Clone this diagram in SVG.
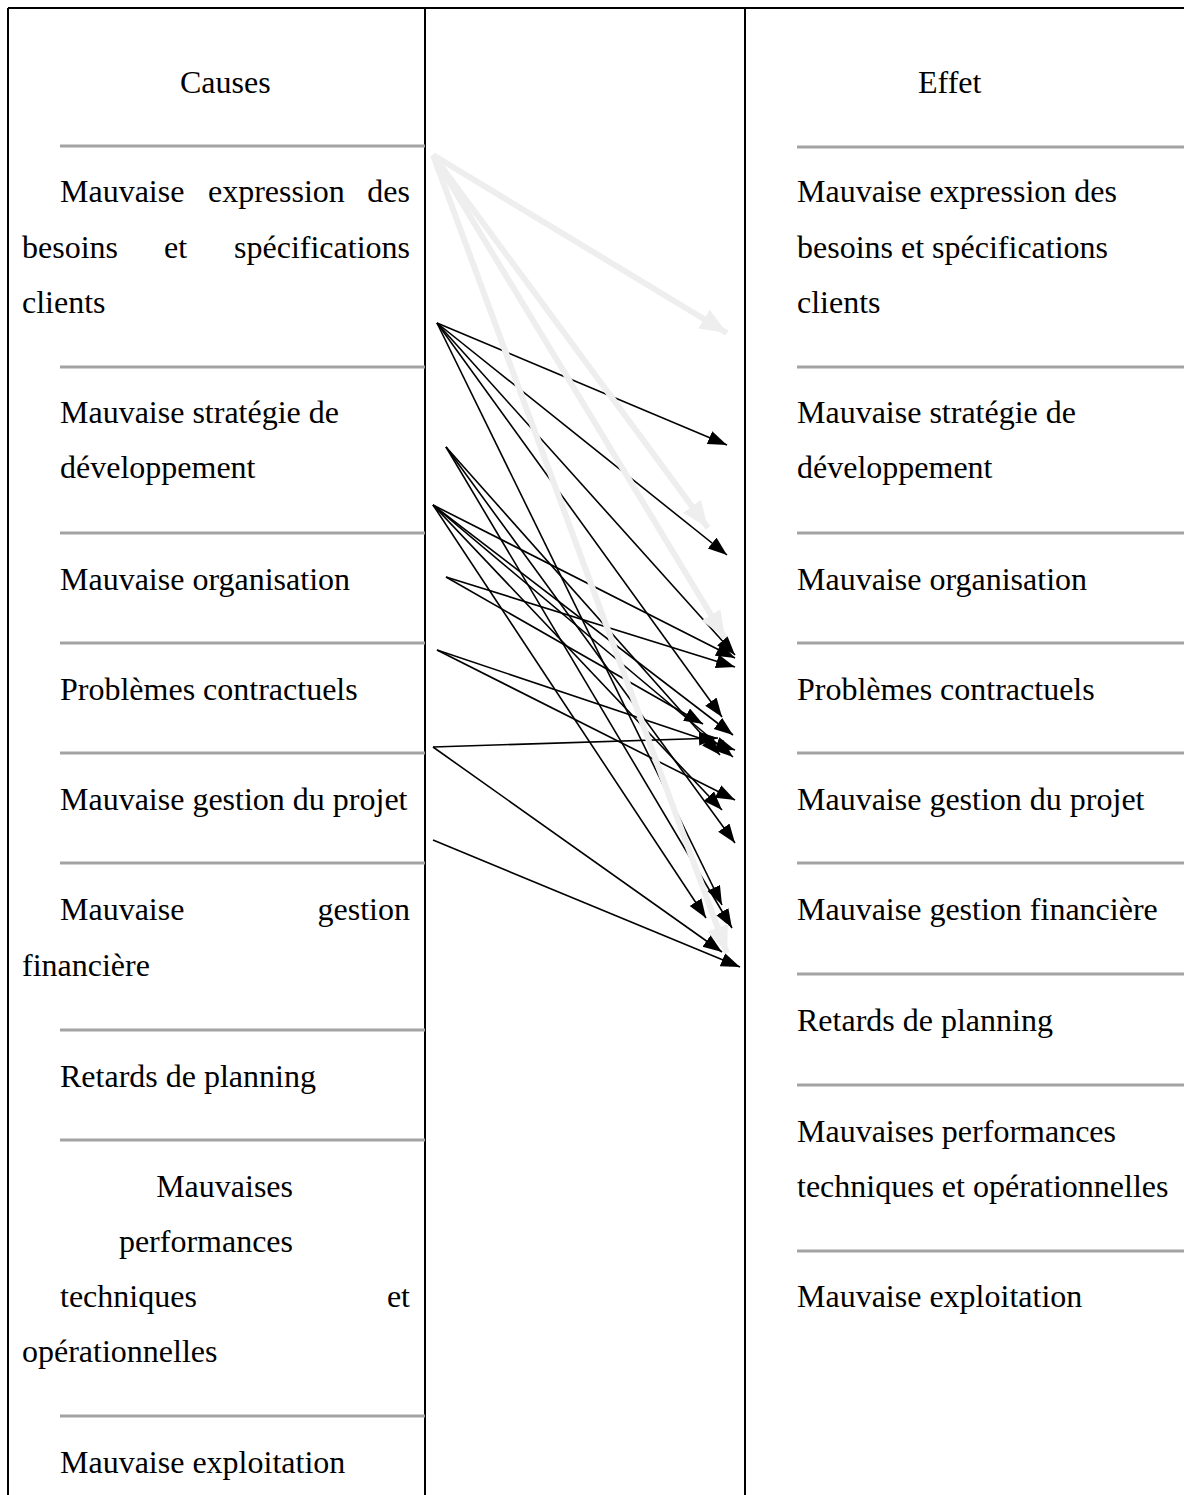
<svg xmlns="http://www.w3.org/2000/svg" width="1184" height="1495" viewBox="0 0 1184 1495">
<defs>
<style>
text{font-family:"Liberation Serif","Times New Roman",serif;font-size:32px;fill:#000}
.frame{stroke:#000;stroke-width:2;fill:none}
.sep{stroke:#a3a3a3;stroke-width:3}
.blk{stroke:#000;stroke-width:1.6;fill:none;marker-end:url(#ah)}
.gry{stroke:#eeeeee;stroke-width:6;fill:none;marker-end:url(#gh)}
</style>
<marker id="ah" markerUnits="userSpaceOnUse" markerWidth="22" markerHeight="16" refX="19" refY="7" orient="auto"><path d="M0,0 L19,7 L0,14 z" fill="#000"/></marker>
<marker id="gh" markerUnits="userSpaceOnUse" markerWidth="30" markerHeight="24" refX="27" refY="11" orient="auto"><path d="M0,0 L27,11 L0,22 z" fill="#eeeeee"/></marker>
</defs>
<rect width="1184" height="1495" fill="#fff"/>
<g id="frame">
<line class="frame" x1="8" y1="8" x2="1184" y2="8"/>
<line class="frame" x1="8" y1="8" x2="8" y2="1495"/>
<line class="frame" x1="425" y1="8" x2="425" y2="1495"/>
<line class="frame" x1="745" y1="8" x2="745" y2="1495"/>
</g>
<g id="separators">
<line class="sep" x1="60" y1="146" x2="425" y2="146"/>
<line class="sep" x1="60" y1="367" x2="425" y2="367"/>
<line class="sep" x1="60" y1="533" x2="425" y2="533"/>
<line class="sep" x1="60" y1="643" x2="425" y2="643"/>
<line class="sep" x1="60" y1="753" x2="425" y2="753"/>
<line class="sep" x1="60" y1="863" x2="425" y2="863"/>
<line class="sep" x1="60" y1="1030" x2="425" y2="1030"/>
<line class="sep" x1="60" y1="1140" x2="425" y2="1140"/>
<line class="sep" x1="60" y1="1416" x2="425" y2="1416"/>
<line class="sep" x1="797" y1="147" x2="1184" y2="147"/>
<line class="sep" x1="797" y1="367" x2="1184" y2="367"/>
<line class="sep" x1="797" y1="533" x2="1184" y2="533"/>
<line class="sep" x1="797" y1="643" x2="1184" y2="643"/>
<line class="sep" x1="797" y1="753" x2="1184" y2="753"/>
<line class="sep" x1="797" y1="863" x2="1184" y2="863"/>
<line class="sep" x1="797" y1="974" x2="1184" y2="974"/>
<line class="sep" x1="797" y1="1085" x2="1184" y2="1085"/>
<line class="sep" x1="797" y1="1251" x2="1184" y2="1251"/>
</g>
<g id="causes-header"><text x="180" y="93">Causes</text></g>
<g id="cause-1">
<text x="60" y="202">Mauvaise</text><text x="208" y="202">expression</text><text x="410" y="202" text-anchor="end">des</text>
<text x="22" y="258">besoins</text><text x="164" y="258">et</text><text x="410" y="258" text-anchor="end">spécifications</text>
<text x="22" y="313">clients</text>
</g>
<g id="cause-2"><text x="60" y="423">Mauvaise stratégie de</text><text x="60" y="478">développement</text></g>
<g id="cause-3"><text x="60" y="590">Mauvaise organisation</text></g>
<g id="cause-4"><text x="60" y="700">Problèmes contractuels</text></g>
<g id="cause-5"><text x="60" y="810">Mauvaise gestion du projet</text></g>
<g id="cause-6"><text x="60" y="920">Mauvaise</text><text x="410" y="920" text-anchor="end">gestion</text><text x="22" y="976">financière</text></g>
<g id="cause-7"><text x="60" y="1087">Retards de planning</text></g>
<g id="cause-8">
<text x="293" y="1197" text-anchor="end">Mauvaises</text>
<text x="293" y="1252" text-anchor="end">performances</text>
<text x="60" y="1307">techniques</text><text x="410" y="1307" text-anchor="end">et</text>
<text x="22" y="1362">opérationnelles</text>
</g>
<g id="cause-9"><text x="60" y="1473">Mauvaise exploitation</text></g>
<g id="effet-header"><text x="918" y="93">Effet</text></g>
<g id="effet-1"><text x="797" y="202">Mauvaise expression des</text><text x="797" y="258">besoins et spécifications</text><text x="797" y="313">clients</text></g>
<g id="effet-2"><text x="797" y="423">Mauvaise stratégie de</text><text x="797" y="478">développement</text></g>
<g id="effet-3"><text x="797" y="590">Mauvaise organisation</text></g>
<g id="effet-4"><text x="797" y="700">Problèmes contractuels</text></g>
<g id="effet-5"><text x="797" y="810">Mauvaise gestion du projet</text></g>
<g id="effet-6"><text x="797" y="920">Mauvaise gestion financière</text></g>
<g id="effet-7"><text x="797" y="1031">Retards de planning</text></g>
<g id="effet-8"><text x="797" y="1142">Mauvaises performances</text><text x="797" y="1197">techniques et opérationnelles</text></g>
<g id="effet-9"><text x="797" y="1307">Mauvaise exploitation</text></g>
<g id="connectors">
<line class="blk" x1="437" y1="323" x2="727" y2="445"/>
<line class="blk" x1="437" y1="323" x2="727" y2="555"/>
<line class="blk" x1="437" y1="323" x2="735" y2="655"/>
<line class="blk" x1="437" y1="323" x2="722" y2="717"/>
<line class="blk" x1="437" y1="323" x2="722" y2="905"/>
<line class="blk" x1="446" y1="447" x2="720" y2="755"/>
<line class="blk" x1="446" y1="447" x2="735" y2="843"/>
<line class="blk" x1="446" y1="447" x2="732" y2="928"/>
<line class="blk" x1="433" y1="505" x2="735" y2="658"/>
<line class="blk" x1="433" y1="505" x2="733" y2="735"/>
<line class="blk" x1="433" y1="505" x2="733" y2="757"/>
<line class="blk" x1="433" y1="505" x2="722" y2="810"/>
<line class="blk" x1="433" y1="505" x2="706" y2="918"/>
<line class="blk" x1="446" y1="577" x2="735" y2="667"/>
<line class="blk" x1="446" y1="577" x2="703" y2="724"/>
<line class="blk" x1="437" y1="650" x2="735" y2="750"/>
<line class="blk" x1="437" y1="650" x2="735" y2="800"/>
<line class="blk" x1="433" y1="747" x2="718" y2="738"/>
<line class="blk" x1="433" y1="747" x2="722" y2="952"/>
<line class="blk" x1="433" y1="840" x2="740" y2="967"/>
<line class="gry" x1="433" y1="155" x2="727" y2="333"/>
<line class="gry" x1="433" y1="155" x2="708" y2="528"/>
<line class="gry" x1="433" y1="155" x2="725" y2="638"/>
<line class="gry" x1="433" y1="155" x2="727" y2="953"/>
</g>
</svg>
